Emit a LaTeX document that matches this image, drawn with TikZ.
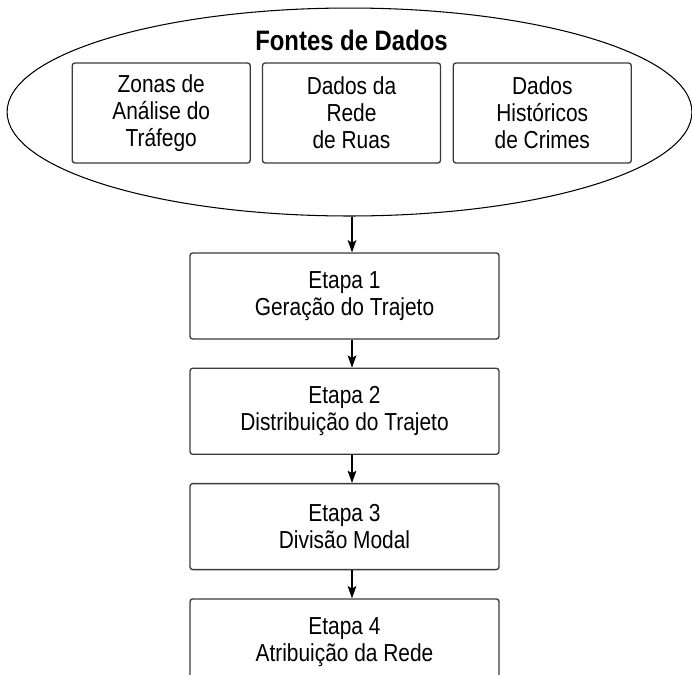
\documentclass[tikz,border=0pt]{standalone}
\usepackage{fontspec}
\setmainfont[FakeStretch=0.85]{Liberation Sans}
\usetikzlibrary{shapes.geometric, arrows.meta, positioning}
\definecolor{lineG}{HTML}{3A3A3A}

\begin{document}
\begin{tikzpicture}[x=0.02cm, y=-0.02cm,
  srcbox/.style={
    draw=lineG, line width=0.75pt,
    rounded corners=1.5pt, inner sep=0pt,
    minimum width=3.56cm, minimum height=2cm,
    align=center, font=\fontsize{14}{15.3}\selectfont
  },
  etapabox/.style={
    draw=lineG, line width=0.75pt,
    rounded corners=1.5pt,
    minimum width=6.18cm, minimum height=1.72cm,
    align=center, font=\fontsize{14}{15.3}\selectfont
  },
  arr/.style={-{Stealth[length=7pt, width=5pt, inset=1.5pt]}, line width=0.6pt},
  node distance=0.56cm
]
\useasboundingbox (0,0) rectangle (692,674);

%% ═══ FONTES DE DADOS ═══
\node[ellipse, draw, line width=0.6pt, inner sep=0pt,
  minimum width=13.7cm, minimum height=4.16cm] (fontes) at (349.5,112) {};

\node[font=\fontsize{16}{19}\selectfont\bfseries] (titulo) at (351.5,40)
  {Fontes de Dados};

\node[srcbox] (rede) at (351.5,113) {Dados da\\Rede\\de Ruas};
\node[srcbox, left=0.22cm of rede] (zonas) {Zonas de\\Análise do\\Tráfego};
\node[srcbox, right=0.23cm of rede] (crimes) {Dados\\Históricos\\de Crimes};

%% ═══ ETAPAS ═══
\node[etapabox] (e1) at (344.5,296) {Etapa 1\\Geração do Trajeto};
\node[etapabox, below=of e1] (e2) {Etapa 2\\Distribuição do Trajeto};
\node[etapabox, below=of e2] (e3) {Etapa 3\\Divisão Modal};
\node[etapabox, below=of e3] (e4) {Etapa 4\\Atribuição da Rede};

%% ═══ SETAS ═══
\coordinate (eixo) at (352,0);
\draw[arr] (fontes.south -| eixo) -- (e1.north -| eixo);
\foreach \a/\b in {e1/e2, e2/e3, e3/e4}
  \draw[arr] (\a.south -| eixo) -- (\b.north -| eixo);

\end{tikzpicture}
\end{document}
